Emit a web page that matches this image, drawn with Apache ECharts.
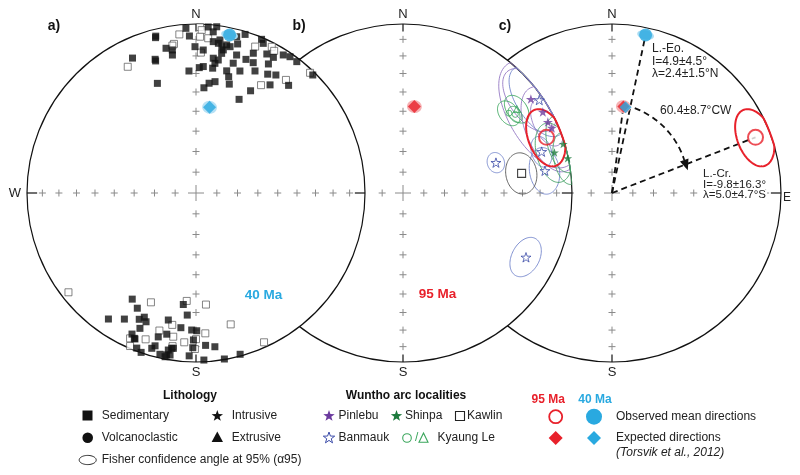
<!DOCTYPE html>
<html><head><meta charset="utf-8">
<script src="https://cdn.jsdelivr.net/npm/echarts@6/dist/echarts.min.js"></script>
<style>html,body{margin:0;padding:0;background:#fff}#c{width:800px;height:475px}</style>
</head><body><div id="c"></div>
<script>
// ---------------- DATA (declination °, inclination °; inc<0 = upper hemisphere) ----------------
// a) individual sedimentary directions, 40 Ma dataset
const sedDirsNormal = [[356.5,2.7],[4.2,1.7],[7.1,1],[6.1,4.6],[345.6,4.7],[345.4,5.6],[357.6,7.8],[6.5,10.8],[8.9,9.2],[17.2,2],[14.6,5],[23.1,1.3],[24.2,3.3],[348.3,13.6],[350.6,15.3],[350.3,18.3],[359.6,14.5],[2.9,16.4],[8.5,11.4],[10,13.1],[11.7,11.5],[10.8,14.9],[13.1,12.1],[15.6,9.3],[10.4,17.1],[16.4,16],[22.3,11.6],[27,8.5],[29.7,8.4],[32.3,3.8],[34.6,2.3],[37.5,2.3],[334.8,12.8],[343,18.4],[343,19.4],[7.3,20.7],[9.5,21.3],[8.3,23.5],[16,21.2],[20.5,16.7],[23.7,16.9],[29.3,13.5],[356.7,28.5],[1.5,26.7],[3.3,26],[7.6,26.4],[14.1,26.4],[19.8,24.3],[25.8,20.9],[31.1,19],[34.1,16.8],[44.7,2],[340.6,31.8],[4.3,37.6],[6.8,34.9],[9.7,33.6],[17,33.1],[15.7,29.3],[34.4,23.5],[40.7,17.1],[28.1,32],[24.7,38.9],
  [1.4,-2],[354,-6.3],[2,-4],[1.5,-8.3],[4.5,-9],[351.6,-11.8],[350.9,-12.7],[22,-7.3],[27.4,-2.9],[28.8,-4.5],[2,-18],[331.6,-16.2],[43.5,-2.2],[31.1,-26.4],[38.5,-15.6]];
const sedDirsReversed = [[211,27.6],[207,24.5],[186.5,34],[184.1,28.4],[214.8,10.1],[209.6,15.3],[204.2,19.2],[202.6,21.5],[201.2,19.4],[192.3,24.1],[186.4,20.9],[202.5,14.4],[181.8,20],[179.7,19.6],[204.4,9.2],[202.7,7.1],[194.7,13],[191.7,15.8],[181,14.1],[176.4,10.6],[173,9.2],[164.7,1.2],[170.3,0.4],[177.3,1.2],[182.4,4],[181.2,9.3],[195.9,5],[195,7.1],[192.6,2.5],[190.7,1.6],[189.1,3.3],[188.3,7.9],[190,6.3],[200.9,2],[199,0.3],[188.9,7.8],[190.3,3],[203,7.3],
  [232.1,-4.9],[202.4,-30.7],[184.9,-36.1],[174.9,-34.1],[190.2,-21.8],[194.9,-16.9],[204.4,-6.2],[199,-9.3],[189,-15],[176.2,-17.9],[180,-14.6],[184.5,-12.4],[165.2,-20.7],[155.5,-3.3],[180.4,-8.5],[203.3,-1.6],[188.7,-9.2]];
// b) Wuntho arc site means [dec, inc, a95]
const pinlebuSites = [[53.7,6.8,13],[59.9,4.9,21],[63.9,5.1,9],[66.4,4.4,16]];
const banmaukSites = [[55.7,2.7,14],[73.4,15.5,6],[81.1,16.1,9],[71.9,41.7,4.5],[117.6,19,8.2]];
const shinpaSites  = [[73,1,10],[75,8,11],[78.1,0.5,9]];
const kawlinSites  = [[80.6,29.6,8.6]];
const kyaungLeCircleSites   = [[53,22.6,5.5],[55,20,3.5]];
const kyaungLeTriangleSites = [[53.6,17.4,6]];
// mean directions [dec, inc, a95]
const observed95 = [[68.8,-9.8,11]];
const observed40 = [[12,4.9,3]];
const expected95 = [[7.5,47.2,3.3]];
const expected40 = [[9,47.4,3.3]];
const rotationCW = 60.4;
// stereonet reference grid
const gridIncs = [10,20,30,40,50,60,70,80];
const gridDecs = [0,90,180,270];

// ---------------- helpers ----------------
const rad = Math.PI/180, SQ2 = Math.SQRT2;
function proj(dec, inc){
  const th = (90-Math.abs(inc))*rad;
  const r = Math.min(1, SQ2*Math.sin(th/2));
  return [r*Math.sin(dec*rad), r*Math.cos(dec*rad)];
}
function smallCircle(dec, inc, a95){
  const D=dec*rad, I=inc*rad, sg = inc<0?-1:1, a=a95*rad;
  const m=[Math.cos(I)*Math.cos(D), Math.cos(I)*Math.sin(D), Math.sin(I)];
  const u1=[-Math.sin(I)*Math.cos(D), -Math.sin(I)*Math.sin(D), Math.cos(I)];
  const u2=[-Math.sin(D), Math.cos(D), 0];
  const pts=[];
  for(let k=0;k<=90;k++){
    const t=k*4*rad;
    const v=[0,1,2].map(i=>Math.cos(a)*m[i]+Math.sin(a)*(Math.cos(t)*u1[i]+Math.sin(t)*u2[i]));
    const down=v[2]*sg, h=Math.hypot(v[0],v[1]);
    const th=Math.atan2(h,down);
    const r=Math.min(1, SQ2*Math.sin(th/2));
    const dd=Math.atan2(v[1],v[0]);
    pts.push([r*Math.sin(dd), r*Math.cos(dd)]);
  }
  return pts;
}
const starPath = (()=>{let s='path://';for(let i=0;i<10;i++){const a=(-90+i*36)*rad,r=i%2?19:50;s+=(i?'L':'M')+(50+r*Math.cos(a)).toFixed(2)+','+(52+r*Math.sin(a)).toFixed(2);}return s+'Z';})();
const FONT='"Liberation Sans", Arial, Helvetica, sans-serif';
const BLUE='#29a9e0', RED='#e8212b', PURPLE='#6b3a9e', PURPLE_L='#9579c4', BAN='#3b4ba8', BAN_L='#7486cc', SHIN='#1d7a3d', SHIN_L='#45a267', KYA='#3aa65c';

const series=[];
const baseZ=[22,12,2];
function primitive(p){
  series.push({type:'custom',xAxisIndex:p,yAxisIndex:p,z:baseZ[p],silent:true,data:[[0,0]],
    renderItem(params,api){
      const c=api.coord([0,0]), R=api.size([1,0])[0];
      const t=[[0,1,0.955],[0,-1,0.955],[1,0,0.94],[-1,0,0.94]].map(q=>{
        const a=api.coord([q[0],q[1]]), b=api.coord([q[0]*q[2],q[1]*q[2]]);
        return {type:'line',shape:{x1:a[0],y1:a[1],x2:b[0],y2:b[1]},style:{stroke:'#111',lineWidth:1.2}};});
      return {type:'group',children:[{type:'circle',shape:{cx:c[0],cy:c[1],r:R},style:{fill:'#fff',stroke:'#111',lineWidth:1.2}}].concat(t)};
    }});
  const pts=[[0,0,1]];
  gridDecs.forEach(d=>gridIncs.forEach(i=>pts.push([...proj(d,i),0])));
  series.push({type:'custom',xAxisIndex:p,yAxisIndex:p,z:baseZ[p]+1,silent:true,data:pts,
    renderItem(params,api){
      const c=api.coord([api.value(0),api.value(1)]), a=api.value(2)===1?8:3.5;
      const st={stroke:'#8a8a8a',lineWidth:1};
      return {type:'group',children:[
        {type:'line',shape:{x1:c[0]-a,y1:c[1],x2:c[0]+a,y2:c[1]},style:st},
        {type:'line',shape:{x1:c[0],y1:c[1]-a,x2:c[0],y2:c[1]+a},style:st}]};
    }});
}
function ellipses(p,sites,color,width,z,fill){
  series.push({type:'custom',xAxisIndex:p,yAxisIndex:p,z,silent:true,
    data:sites.map(s=>[...proj(s[0],s[1]),s[0],s[1],s[2]]),
    renderItem(params,api){
      const pts=smallCircle(api.value(2),api.value(3),api.value(4)).map(q=>api.coord(q));
      return {type:'polygon',shape:{points:pts},style:{fill:fill||'none',stroke:fill?null:color,lineWidth:width}};
    }});
}
function scatter(p,dirs,symbol,size,itemStyle,z){
  series.push({type:'scatter',xAxisIndex:p,yAxisIndex:p,z,silent:true,symbol,symbolSize:size,symbolKeepAspect:true,
    itemStyle,data:dirs.map(d=>proj(d[0],d[1]))});
}
function dashed(p,dir,z){
  series.push({type:'line',xAxisIndex:p,yAxisIndex:p,z,silent:true,symbol:'none',
    lineStyle:{color:'#111',width:1.8,type:[6,4]},data:[[0,0],proj(dir[0],dir[1])]});
}
const filled = a=>a.filter(d=>d[1]>=0), open = a=>a.filter(d=>d[1]<0);
const allSed = sedDirsNormal.concat(sedDirsReversed);

// panel a
primitive(0);
scatter(0,open(allSed),'rect',7,{color:'#fff',borderColor:'#555',borderWidth:0.9},24);
scatter(0,filled(allSed),'rect',7,{color:'#111'},25);
ellipses(0,observed40,BLUE,1,26,'#a9dcf3');
scatter(0,observed40,'circle',13,{color:BLUE},27);
ellipses(0,expected40,BLUE,1,26,'#b7e1f5');
scatter(0,expected40,'diamond',13,{color:BLUE},27);
// panel b
primitive(1);
ellipses(1,pinlebuSites,PURPLE_L,0.9,14);
ellipses(1,banmaukSites,BAN_L,0.9,14);
ellipses(1,shinpaSites,SHIN_L,0.9,14);
ellipses(1,kawlinSites,'#555',0.9,14);
ellipses(1,kyaungLeCircleSites,KYA,0.9,14);
ellipses(1,kyaungLeTriangleSites,KYA,0.9,14);
ellipses(1,observed95,RED,2,15);
scatter(1,observed95,'circle',15,{color:'rgba(255,255,255,0)',borderColor:RED,borderWidth:2},16);
scatter(1,pinlebuSites,starPath,10,{color:PURPLE},17);
scatter(1,banmaukSites,starPath,10,{color:'#fff',borderColor:BAN,borderWidth:1},17);
scatter(1,shinpaSites,starPath,9,{color:SHIN},17);
scatter(1,kawlinSites,'rect',8,{color:'#fff',borderColor:'#111',borderWidth:1.1},17);
scatter(1,kyaungLeCircleSites,'circle',6,{color:'rgba(255,255,255,0)',borderColor:KYA,borderWidth:1},17);
scatter(1,kyaungLeTriangleSites,'triangle',7,{color:'rgba(255,255,255,0)',borderColor:KYA,borderWidth:1},17);
ellipses(1,expected95,RED,1,16,'#f6b3b5');
scatter(1,expected95,'diamond',13,{color:RED},17);
// panel c
primitive(2);
dashed(2,expected95[0],4);
dashed(2,observed40[0],4);
dashed(2,observed95[0],4);
series.push({type:'custom',xAxisIndex:2,yAxisIndex:2,z:5,silent:true,data:[[0,0,expected40[0][0],rotationCW]],
  renderItem(params,api){
    const d0=api.value(2)+6, d1=api.value(2)+api.value(3)-4, pts=[];
    for(let k=0;k<=40;k++){const d=d0+(d1-d0)*k/40, r=0.52-0.05*k/40; pts.push(api.coord([r*Math.sin(d*rad),r*Math.cos(d*rad)]));}
    const e=pts[pts.length-1], pr=pts[pts.length-3];
    const ang=Math.atan2(e[1]-pr[1],e[0]-pr[0]);
    const L=11,W=4.5;
    const tip=[e[0]+L*Math.cos(ang),e[1]+L*Math.sin(ang)];
    const head=[tip,[e[0]-W*Math.sin(ang),e[1]+W*Math.cos(ang)],[e[0]+W*Math.sin(ang),e[1]-W*Math.cos(ang)]];
    return {type:'group',children:[
      {type:'polyline',shape:{points:pts},style:{stroke:'#111',lineWidth:1.8,lineDash:[6,4],fill:null}},
      {type:'polygon',shape:{points:head},style:{fill:'#111'}}]};
  }});
ellipses(2,observed95,RED,2,6);
scatter(2,observed95,'circle',15,{color:'#fff',borderColor:RED,borderWidth:2},7);
ellipses(2,observed40,BLUE,1,6,'#a9dcf3');
scatter(2,observed40,'circle',13,{color:BLUE},7);
ellipses(2,expected95,RED,1,6,'#f6b3b5');
scatter(2,expected95,'diamond',12,{color:RED},7);
scatter(2,expected40,'diamond',12,{color:BLUE},8);

// ---------------- labels & legend ----------------
function T(x,y,s,o){o=o||{};return {type:'text',x,y,z:100,silent:true,style:Object.assign({text:s,fill:o.fill||'#222',font:(o.font||'12px ')+FONT,
  textAlign:o.align||'left',textVerticalAlign:'middle',align:o.align||'left',verticalAlign:'middle'},o.extra||{})};}
function starPts(cx,cy,ro){const p=[];for(let i=0;i<10;i++){const a=(-90+i*36)*rad,r=i%2?ro*0.4:ro;p.push([cx+r*Math.cos(a),cy+1+r*Math.sin(a)]);}return p;}
function ellPts(cx,cy,rx,ry){const p=[];for(let i=0;i<48;i++){const a=i/48*2*Math.PI;p.push([cx+rx*Math.cos(a),cy+ry*Math.sin(a)]);}return p;}
const G=[];
[196,403,612].forEach(cx=>{G.push(T(cx,14,'N',{align:'center',font:'13px '}));G.push(T(cx,372,'S',{align:'center',font:'13px '}));});
G.push(T(15,193,'W',{align:'center',font:'13px '}));
G.push(T(787,198,'E',{align:'center',font:'12px '}));
G.push(T(54,26,'a)',{align:'center',font:'bold 14px ',fill:'#111'}));
G.push(T(299,26,'b)',{align:'center',font:'bold 14px ',fill:'#111'}));
G.push(T(505,26,'c)',{align:'center',font:'bold 14px ',fill:'#111'}));
G.push(T(263.5,295,'40 Ma',{align:'center',font:'bold 13.5px ',fill:BLUE}));
G.push(T(437.5,294.5,'95 Ma',{align:'center',font:'bold 13.5px ',fill:RED}));
G.push(T(652,49,'L.-Eo.'));G.push(T(652,61.5,'I=4.9±4.5°'));G.push(T(652,73.5,'λ=2.4±1.5°N'));
G.push(T(660,110.5,'60.4±8.7°CW'));
G.push(T(703,174,'L.-Cr.',{font:'11.5px '}));G.push(T(703,184.5,'I=-9.8±16.3°',{font:'11.5px '}));
G.push(T(703,194.5,'λ=5.0±4.7°S',{font:'11.5px ',extra:{backgroundColor:'#fff',lineHeight:9,padding:[0,1,0,0]}}));
// legend: lithology
G.push(T(190,396,'Lithology',{align:'center',font:'bold 12px ',fill:'#111'}));
G.push({type:'rect',z:100,shape:{x:82.5,y:410.5,width:10,height:10},style:{fill:'#111'}});
G.push({type:'circle',z:100,shape:{cx:87.7,cy:437.7,r:5.3},style:{fill:'#111'}});
G.push({type:'polygon',z:100,shape:{points:ellPts(87.7,460,8.5,4.6)},style:{fill:'#fff',stroke:'#222',lineWidth:1}});
G.push({type:'polygon',z:100,shape:{points:starPts(217.3,415,6)},style:{fill:'#111'}});
G.push({type:'polygon',z:100,shape:{points:[[217.3,431.5],[223,442],[211.6,442]]},style:{fill:'#111'}});
G.push(T(101.7,416,'Sedimentary'));G.push(T(101.7,438,'Volcanoclastic'));
G.push(T(231.7,416,'Intrusive'));G.push(T(231.7,438,'Extrusive'));
G.push(T(101.7,460,'Fisher confidence angle at 95% (α95)'));
// legend: localities
G.push(T(406,396,'Wuntho arc localities',{align:'center',font:'bold 12px ',fill:'#111'}));
G.push({type:'polygon',z:100,shape:{points:starPts(329,415,6)},style:{fill:PURPLE}});
G.push(T(338.5,416,'Pinlebu'));
G.push({type:'polygon',z:100,shape:{points:starPts(396.5,415,6)},style:{fill:SHIN}});
G.push(T(405,416,'Shinpa'));
G.push({type:'rect',z:100,shape:{x:455.5,y:411.5,width:9,height:9},style:{fill:'#fff',stroke:'#222',lineWidth:1.1}});
G.push(T(467,416,'Kawlin'));
G.push({type:'polygon',z:100,shape:{points:starPts(329,437,6)},style:{fill:'#fff',stroke:BAN,lineWidth:1}});
G.push(T(338.5,438,'Banmauk'));
G.push({type:'circle',z:100,shape:{cx:407,cy:438,r:4.3},style:{fill:'#fff',stroke:KYA,lineWidth:1.1}});
G.push(T(415,438,'/',{fill:KYA}));
G.push({type:'polygon',z:100,shape:{points:[[423.5,433],[428,442.3],[419,442.3]]},style:{fill:'#fff',stroke:KYA,lineWidth:1.1}});
G.push(T(437.5,438,'Kyaung Le'));
// legend: means
G.push(T(548.3,399.5,'95 Ma',{align:'center',font:'bold 12px ',fill:RED}));
G.push(T(595,399.5,'40 Ma',{align:'center',font:'bold 12px ',fill:BLUE}));
G.push({type:'circle',z:100,shape:{cx:555.7,cy:416.7,r:6.5},style:{fill:'#fff',stroke:RED,lineWidth:1.8}});
G.push({type:'circle',z:100,shape:{cx:594,cy:416.7,r:8},style:{fill:BLUE}});
G.push(T(616,417,'Observed mean directions'));
G.push({type:'polygon',z:100,shape:{points:[[555.7,431],[562.7,438],[555.7,445],[548.7,438]]},style:{fill:RED}});
G.push({type:'polygon',z:100,shape:{points:[[594,431],[601,438],[594,445],[587,438]]},style:{fill:BLUE}});
G.push(T(616,438,'Expected directions'));
G.push(T(616,452.5,'(Torsvik et al., 2012)',{font:'italic 12px '}));

const chart=echarts.init(document.getElementById('c'),null,{renderer:'canvas'});
const gl=[27,234,443];
chart.setOption({
  animation:false,
  grid:gl.map(l=>({left:l,top:24,width:338,height:338})),
  xAxis:gl.map((l,i)=>({gridIndex:i,type:'value',min:-1,max:1,show:false})),
  yAxis:gl.map((l,i)=>({gridIndex:i,type:'value',min:-1,max:1,show:false})),
  series,
  graphic:{elements:G}
});
</script></body></html>
